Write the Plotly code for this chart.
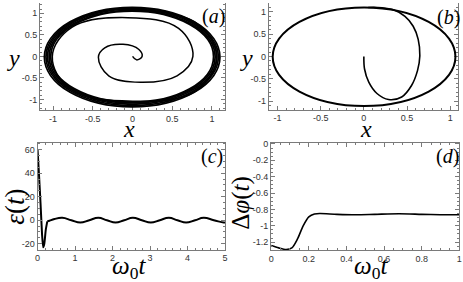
import plotly.graph_objects as go

# ---------------- data ----------------
# (a) transient spiral in the (x, y) plane
spiral_a_x = [0.0, 0.05, 0.12, 0.08, -0.12, -0.35, -0.43, -0.30, 0.10, 0.56, 0.76, 0.58, -0.06, -0.76, -1.01, -0.78, 0.0, 0.80, 1.06, 0.78, 0.0]
spiral_a_y = [0.0, -0.08, 0.0, 0.16, 0.28, 0.20, -0.02, -0.45, -0.60, -0.45, 0.0, 0.65, 0.90, 0.68, 0.0, -0.76, -1.04, -0.80, 0.0, 0.80, 1.08]
# (a) limit-cycle band: ellipses (left, right, bottom, top)
band_a_left = [-1.11, -1.09, -1.07, -1.05, -1.03]
band_a_right = [1.10, 1.08, 1.06, 1.04, 1.02]
band_a_bottom = [-1.17, -1.14, -1.11, -1.08, -1.06]
band_a_top = [1.14, 1.12, 1.10, 1.07, 1.05]

# (b) transient curve and limit cycle
traj_b_x = [0.0, 0.008, 0.057, 0.152, 0.286, 0.438, 0.552, 0.621, 0.648, 0.629, 0.571, 0.476, 0.343, 0.21, 0.05]
traj_b_y = [0.0, -0.28, -0.575, -0.83, -0.966, -0.907, -0.65, -0.317, 0.015, 0.383, 0.679, 0.90, 1.047, 1.095, 1.10]
cycle_b = [-1.055, 1.06, -1.11, 1.10]  # left, right, bottom, top

# (c) epsilon(t): initial spike, then steady oscillation
t_c_spike = [0.0, 0.04, 0.08, 0.12, 0.15, 0.18, 0.22, 0.26]
eps_c_spike = [60, 38, 14, -12, -23, -20, -8, -1.0]
t_c_osc = [0.26, 0.32, 0.45, 0.66, 0.90, 1.14, 1.38, 1.62, 1.85, 2.08, 2.31, 2.54, 2.78, 3.02, 3.26, 3.50, 3.73, 3.96, 4.20, 4.43, 4.70, 4.96, 5.0]
eps_c_osc = [-1.0, -0.4, 1.0, 2.0, 0.0, -2.0, 0.0, 2.0, 0.0, -2.0, 0.0, 2.0, 0.0, -2.0, 0.0, 2.0, 0.0, -2.0, 0.0, 2.0, 0.0, -2.0, -1.9]

# (d) delta phi(t)
t_d = [0.0, 0.04, 0.08, 0.11, 0.14, 0.17, 0.20, 0.23, 0.26, 0.35, 0.45, 0.55, 0.68, 0.80, 0.90, 1.0]
dphi_d = [-1.24, -1.27, -1.29, -1.27, -1.16, -1.0, -0.89, -0.855, -0.85, -0.86, -0.865, -0.86, -0.853, -0.86, -0.865, -0.865]

# tick values / labels
ticks_xy = [-1, -0.5, 0, 0.5, 1]
ticks_xy_text = ["-1", "-0.5", "0", "0.5", "1"]
ticks_c_x = [0, 1, 2, 3, 4, 5]
ticks_c_x_text = ["0", "1", "2", "3", "4", "5"]
ticks_c_y = [-20, 0, 20, 40, 60]
ticks_c_y_text = ["-20", "0", "20", "40", "60"]
ticks_d_x = [0, 0.2, 0.4, 0.6, 0.8, 1]
ticks_d_x_text = ["0", "0.2", "0.4", "0.6", "0.8", "1"]
ticks_d_y = [0, -0.2, -0.4, -0.6, -0.8, -1, -1.2]
ticks_d_y_text = ["0", "-0.2", "-0.4", "-0.6", "-0.8", "-1", "-1.2"]

# ---------------- figure ----------------
W, H = 463, 282
FRAME = "#7a7a7a"
TICKFONT = dict(family="Liberation Sans, Arial, sans-serif", size=9, color="#333")
SERIF = "Liberation Serif, Times New Roman, serif"

fig = go.Figure()

fig.add_trace(go.Scatter(x=spiral_a_x, y=spiral_a_y, mode="lines",
                         line=dict(color="black", width=1.5, shape="spline", smoothing=1.1),
                         xaxis="x", yaxis="y", showlegend=False, hoverinfo="skip"))
fig.add_trace(go.Scatter(x=traj_b_x, y=traj_b_y, mode="lines",
                         line=dict(color="black", width=1.6, shape="spline", smoothing=1.0),
                         xaxis="x2", yaxis="y2", showlegend=False, hoverinfo="skip"))
fig.add_trace(go.Scatter(x=t_c_spike, y=eps_c_spike, mode="lines",
                         line=dict(color="black", width=2, shape="spline", smoothing=0.5),
                         xaxis="x3", yaxis="y3", showlegend=False, hoverinfo="skip"))
fig.add_trace(go.Scatter(x=t_c_osc, y=eps_c_osc, mode="lines",
                         line=dict(color="black", width=2, shape="spline", smoothing=1.3),
                         xaxis="x3", yaxis="y3", showlegend=False, hoverinfo="skip"))
fig.add_trace(go.Scatter(x=t_d, y=dphi_d, mode="lines",
                         line=dict(color="black", width=1.6, shape="spline", smoothing=0.8),
                         xaxis="x4", yaxis="y4", showlegend=False, hoverinfo="skip"))

shapes = []
for l, r, b, t in zip(band_a_left, band_a_right, band_a_bottom, band_a_top):
    shapes.append(dict(type="circle", xref="x", yref="y", x0=l, x1=r, y0=b, y1=t,
                       line=dict(color="black", width=1.8)))
shapes.append(dict(type="circle", xref="x2", yref="y2", x0=cycle_b[0], x1=cycle_b[1],
                   y0=cycle_b[2], y1=cycle_b[3], line=dict(color="black", width=2)))


def px_x(p):
    return p / W


def px_y(p):
    return 1 - p / H


def axis(domain, rng, tv, tt, minor_dtick, minor_tick0, anchor, mirror_line=True):
    return dict(domain=domain, range=rng, tickvals=tv, ticktext=tt, anchor=anchor,
                showline=True, linecolor=FRAME, linewidth=1, mirror="ticks" if mirror_line else False,
                ticks="inside", ticklen=4, tickcolor=FRAME, tickwidth=1,
                minor=dict(ticks="inside", ticklen=2, dtick=minor_dtick, tick0=minor_tick0,
                           tickcolor=FRAME, tickwidth=1),
                showgrid=False, zeroline=False, tickfont=TICKFONT, fixedrange=True)


layout = dict(
    width=W, height=H, margin=dict(l=0, r=0, t=0, b=0),
    paper_bgcolor="white", plot_bgcolor="white",
    xaxis=axis([px_x(37.5), px_x(225)], [-1.165, 1.165], ticks_xy, ticks_xy_text, 0.1, 0, "y", False),
    yaxis=axis([px_y(108), 1], [-1.24, 1.24], ticks_xy, ticks_xy_text, 0.1, 0, "x", True),
    xaxis2=axis([px_x(269.3), px_x(461)], [-1.1, 1.09], ticks_xy, ticks_xy_text, 0.1, 0, "y2", False),
    yaxis2=axis([px_y(107.7), 1], [-1.19, 1.2], ticks_xy, ticks_xy_text, 0.1, 0, "x2", True),
    xaxis3=axis([px_x(35), px_x(225)], [0, 5], ticks_c_x, ticks_c_x_text, 0.2, 0, "y3"),
    yaxis3=axis([px_y(249.3), px_y(141)], [-25, 66], ticks_c_y, ticks_c_y_text, 5, 0, "x3"),
    xaxis4=axis([px_x(271.7), px_x(462.3)], [0, 1], ticks_d_x, ticks_d_x_text, 0.05, 0, "y4"),
    yaxis4=axis([px_y(250), px_y(141)], [-1.3, 0.018], ticks_d_y, ticks_d_y_text, 0.05, 0, "x4"),
    shapes=shapes,
)


def ann(text, x, y, size, angle=0):
    return dict(text=text, x=px_x(x), y=px_y(y), xref="paper", yref="paper",
                xanchor="center", yanchor="middle", showarrow=False, textangle=angle,
                font=dict(family=SERIF, size=size, color="black"))


layout["annotations"] = [
    ann("<i>y</i>", 11, 56, 24),
    ann("<i>x</i>", 128, 127, 24),
    ann("<i>y</i>", 247, 56, 24),
    ann("<i>x</i>", 368, 127, 24),
    ann("<i>ε</i>(<i>t</i>)", 12, 206, 27, -90),
    ann("<i>ω</i><sub>0</sub><i>t</i>", 128, 267, 25),
    ann("Δ<i>φ</i>(<i>t</i>)", 241, 202, 25, -90),
    ann("<i>ω</i><sub>0</sub><i>t</i>", 373, 267, 25),
    ann("(<i>a</i>)", 213, 14, 20),
    ann("(<i>b</i>)", 451, 15, 20),
    ann("(<i>c</i>)", 212, 155, 20),
    ann("(<i>d</i>)", 450, 155, 20),
]

fig.update_layout(**layout)
fig.write_html("out.html", config={"displayModeBar": False},
               post_script="document.body.style.margin='0';document.body.style.overflow='hidden';")
